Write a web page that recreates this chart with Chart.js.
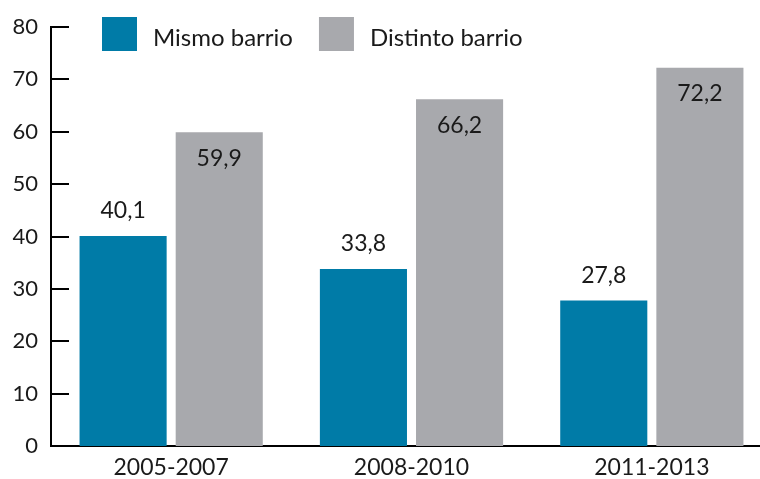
<!DOCTYPE html>
<html>
<head>
<meta charset="utf-8">
<script src="https://cdn.jsdelivr.net/npm/chart.js@4"></script>
<style>
html,body{margin:0;padding:0;background:#fff;overflow:hidden;}
#wrap{width:772px;height:479px;}
</style>
</head>
<body>
<div id="wrap"><canvas id="c" width="772" height="479"></canvas></div>
<script>
const categories = ['2005-2007', '2008-2010', '2011-2013'];
const seriesNames = ['Mismo barrio', 'Distinto barrio'];
const mismoBarrio = [40.1, 33.8, 27.8];
const distintoBarrio = [59.9, 66.2, 72.2];
const yTicks = [0, 10, 20, 30, 40, 50, 60, 70, 80];

const FONT = 'Lato, "Open Sans", sans-serif';
const TEXT = '#1a1a1a';
const colors = ['#007ba7', '#a8a9ad'];

const fmt = v => v.toFixed(1).replace('.', ',');

const extras = {
  id: 'extras',
  afterDatasetsDraw(chart) {
    const ctx = chart.ctx;
    const y = chart.scales.y;
    // inward tick marks
    ctx.save();
    ctx.strokeStyle = '#000';
    ctx.lineWidth = 2;
    yTicks.forEach(t => {
      const py = Math.round(y.getPixelForValue(t));
      ctx.beginPath();
      ctx.moveTo(chart.chartArea.left, py);
      ctx.lineTo(chart.chartArea.left + 18, py);
      ctx.stroke();
    });
    // data labels
    ctx.font = '23px ' + FONT;
    ctx.fillStyle = TEXT;
    ctx.textAlign = 'center';
    ctx.textBaseline = 'middle';
    chart.data.datasets.forEach((ds, di) => {
      const meta = chart.getDatasetMeta(di);
      meta.data.forEach((bar, i) => {
        const v = ds.data[i];
        const ly = di === 0 ? bar.y - 25 : bar.y + 26;
        ctx.fillText(fmt(v), bar.x, ly);
      });
    });
    // legend
    ctx.font = '24px ' + FONT;
    ctx.textAlign = 'left';
    let x = 102;
    chart.data.datasets.forEach((ds) => {
      ctx.fillStyle = ds.backgroundColor;
      ctx.fillRect(x, 17, 35, 34);
      ctx.fillStyle = TEXT;
      ctx.fillText(ds.label, x + 51, 38);
      x = x + 51 + ctx.measureText(ds.label).width + 26;
    });
    ctx.restore();
  }
};

new Chart(document.getElementById('c'), {
  type: 'bar',
  data: {
    labels: categories,
    datasets: [
      { label: seriesNames[0], data: mismoBarrio, backgroundColor: colors[0] },
      { label: seriesNames[1], data: distintoBarrio, backgroundColor: colors[1] }
    ]
  },
  options: {
    responsive: false,
    animation: false,
    events: [],
    layout: { padding: { top: 27, right: 0, left: 0, bottom: 0 } },
    categoryPercentage: 0.8,
    barPercentage: 0.906,
    plugins: { legend: { display: false }, tooltip: { enabled: false } },
    scales: {
      x: {
        grid: { display: false, drawTicks: false },
        border: { display: true, color: '#000', width: 2 },
        ticks: { color: TEXT, font: { family: FONT, size: 23 }, padding: 8, maxRotation: 0 },
        afterFit: s => { s.height = 33; }
      },
      y: {
        min: 0, max: 80,
        afterBuildTicks: s => { s.ticks = yTicks.map(v => ({ value: v })); },
        grid: { display: false, drawTicks: false },
        border: { display: true, color: '#000', width: 2 },
        ticks: { color: TEXT, font: { family: FONT, size: 22 }, padding: 13 },
        afterFit: s => { s.width = 51; }
      }
    }
  },
  plugins: [extras]
});
</script>
</body>
</html>
